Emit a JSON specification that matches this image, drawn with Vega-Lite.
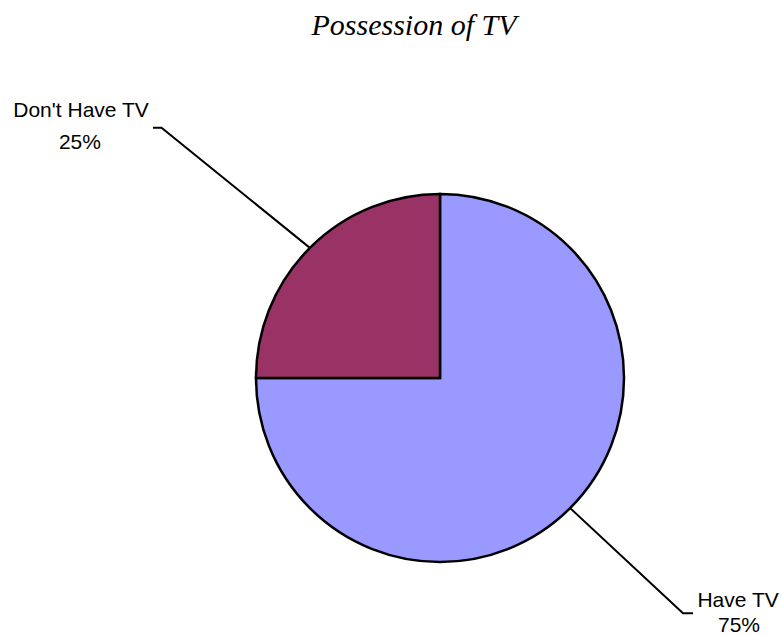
{
  "$schema": "https://vega.github.io/schema/vega-lite/v6.json",
  "width": 684,
  "height": 514,
  "padding": {"left": 98, "top": 121, "right": 0, "bottom": 0},
  "autosize": {"type": "none"},
  "background": "white",
  "title": {
    "text": "Possession of TV",
    "font": "Liberation Serif",
    "fontStyle": "italic",
    "fontWeight": "normal",
    "fontSize": 30,
    "color": "black",
    "anchor": "middle",
    "frame": "group",
    "baseline": "alphabetic",
    "offset": 0,
    "dx": -26,
    "dy": -35
  },
  "config": {"view": {"stroke": null}},
  "datasets": {
    "slices": [
      {"category": "Have TV", "percent": 75, "rank": 1},
      {"category": "Don't Have TV", "percent": 25, "rank": 2}
    ],
    "leaders": [
      {"series": "Don't Have TV", "step": 1, "px": -1.560, "py": 1.360},
      {"series": "Don't Have TV", "step": 2, "px": -1.5136, "py": 1.360},
      {"series": "Don't Have TV", "step": 3, "px": -0.7071, "py": 0.7071},
      {"series": "Have TV", "step": 1, "px": 0.7071, "py": -0.7071},
      {"series": "Have TV", "step": 2, "px": 1.3207, "py": -1.2788},
      {"series": "Have TV", "step": 3, "px": 1.375, "py": -1.2788}
    ],
    "labels": [
      {"text": "Don't Have TV", "px": -1.951, "py": 1.420},
      {"text": "25%", "px": -1.957, "py": 1.242},
      {"text": "Have TV", "px": 1.620, "py": -1.243},
      {"text": "75%", "px": 1.625, "py": -1.378}
    ]
  },
  "layer": [
    {
      "data": {"name": "slices"},
      "mark": {"type": "arc", "radius": 184, "stroke": "black", "strokeWidth": 2.5},
      "encoding": {
        "theta": {"field": "percent", "type": "quantitative", "stack": true},
        "order": {"field": "rank", "type": "quantitative"},
        "color": {
          "field": "category",
          "type": "nominal",
          "scale": {"domain": ["Have TV", "Don't Have TV"], "range": ["#9999FF", "#993366"]},
          "legend": null
        }
      }
    },
    {
      "data": {"name": "leaders"},
      "mark": {"type": "line", "color": "black", "strokeWidth": 2},
      "encoding": {
        "x": {"field": "px", "type": "quantitative", "scale": {"domain": [-1.8587, 1.8587], "nice": false, "zero": false}, "axis": null},
        "y": {"field": "py", "type": "quantitative", "scale": {"domain": [-1.3967, 1.3967], "nice": false, "zero": false}, "axis": null},
        "detail": {"field": "series", "type": "nominal"},
        "order": {"field": "step", "type": "quantitative"}
      }
    },
    {
      "data": {"name": "labels"},
      "mark": {"type": "text", "font": "Liberation Sans", "fontSize": 21, "color": "black", "align": "center", "baseline": "alphabetic"},
      "encoding": {
        "x": {"field": "px", "type": "quantitative", "scale": {"domain": [-1.8587, 1.8587], "nice": false, "zero": false}, "axis": null},
        "y": {"field": "py", "type": "quantitative", "scale": {"domain": [-1.3967, 1.3967], "nice": false, "zero": false}, "axis": null},
        "text": {"field": "text", "type": "nominal"}
      }
    }
  ]
}
